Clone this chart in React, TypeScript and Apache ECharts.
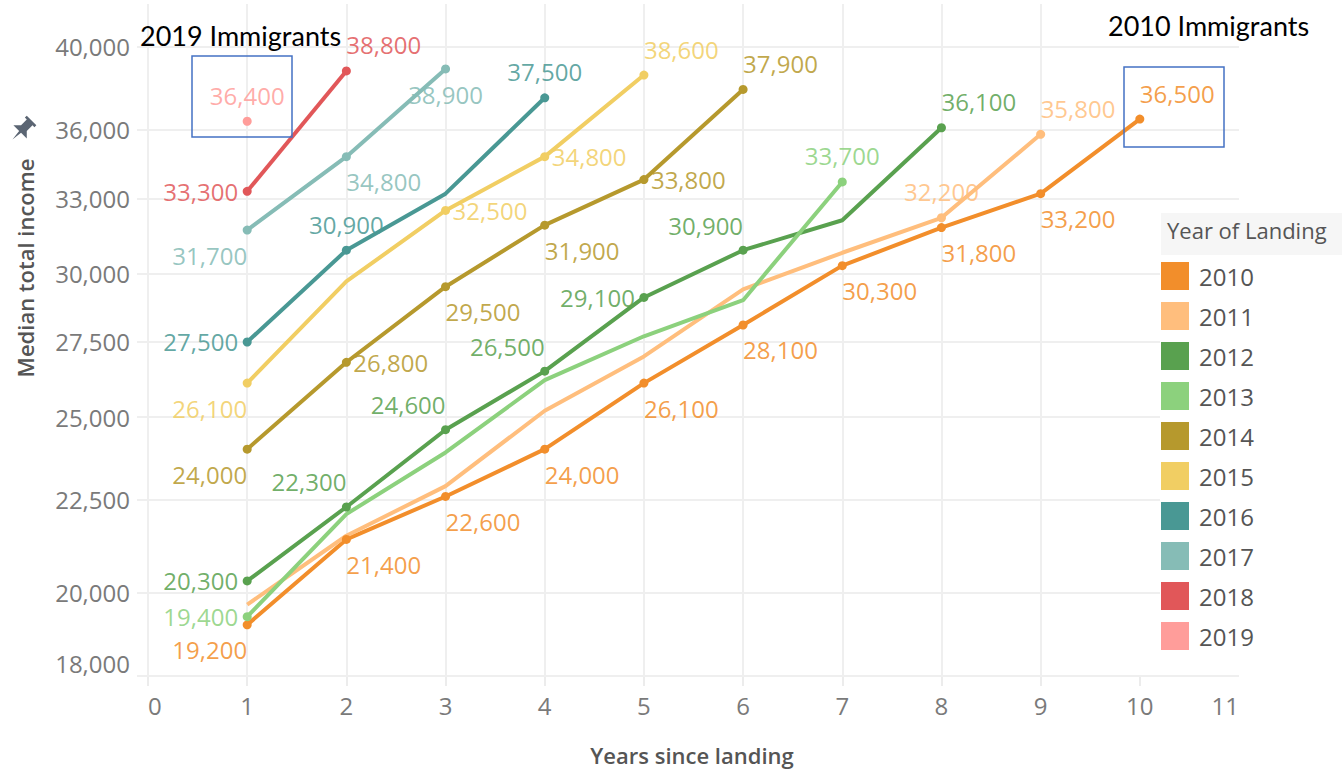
import React, { useEffect, useRef } from 'react';
import * as echarts from 'echarts';

// ---------- data ----------
const yearsOfLanding = ['2010', '2011', '2012', '2013', '2014', '2015', '2016', '2017', '2018', '2019'];
const yearsSinceLanding = [1, 2, 3, 4, 5, 6, 7, 8, 9, 10];

const income2010 = [19200, 21400, 22600, 24000, 26100, 28100, 30300, 31800, 33200, 36500];
const income2011 = [19700, 21500, 22900, 25200, 27000, 29400, 30800, 32200, 35800];
const income2012 = [20300, 22300, 24600, 26500, 29100, 30900, 32100, 36100];
const income2013 = [19400, 22100, 23900, 26200, 27700, 29000, 33700];
const income2014 = [24000, 26800, 29500, 31900, 33800, 37900];
const income2015 = [26100, 29700, 32500, 34800, 38600];
const income2016 = [27500, 30900, 33200, 37500];
const income2017 = [31700, 34800, 38900];
const income2018 = [33300, 38800];
const income2019 = [36400];

const yTickValues = [18000, 20000, 22500, 25000, 27500, 30000, 33000, 36000, 40000];
const xLabelValues = [0, 1, 2, 3, 4, 5, 6, 7, 8, 9, 10, 11];
const xTickValues = [0, 1, 2, 3, 4, 5, 6, 7, 8, 9, 10];

// ---------- styling ----------
const seriesValues = [income2010, income2011, income2012, income2013, income2014, income2015, income2016, income2017, income2018, income2019];
const colors = ['#F28E2B', '#FFBE7D', '#59A14F', '#8CD17D', '#B6992D', '#F1CE63', '#499894', '#86BCB6', '#E15759', '#FF9D9A'];

// label placement per point ('' = no label / no dot)
const labelPlacements: string[][] = [
  ['BL', 'BR', 'BR', 'BR', 'BR', 'BR', 'BR', 'BR', 'BR', 'TR'],
  ['', '', '', '', '', '', '', 'T', 'TR'],
  ['L', 'TL', 'TL', 'TL', 'L', 'TL', '', 'TR'],
  ['L', '', '', '', '', '', 'T'],
  ['BL', 'R', 'BR', 'BR', 'R', 'TR'],
  ['BL', '', 'R', 'R', 'TR'],
  ['L', 'T', '', 'T'],
  ['BL', 'BR', 'B'],
  ['L', 'TR'],
  ['T'],
];

const FONT = "'Open Sans', sans-serif";
const fmt = (v: number) => String(Math.round(v)).replace(/\B(?=(\d{3})+(?!\d))/g, ',');

function placement(code: string): { align: string; offset: number[] } {
  switch (code) {
    case 'L': return { align: 'right', offset: [-9, 0] };
    case 'R': return { align: 'left', offset: [7, 0] };
    case 'T': return { align: 'center', offset: [0, -26] };
    case 'B': return { align: 'center', offset: [0, 26] };
    case 'TL': return { align: 'right', offset: [0, -25] };
    case 'TR': return { align: 'left', offset: [0, -26] };
    case 'BL': return { align: 'right', offset: [0, 25] };
    default: return { align: 'left', offset: [0, 25] }; // BR
  }
}

const series = yearsOfLanding.map((name, i) => ({
  name,
  type: 'line',
  color: colors[i],
  symbol: 'circle',
  showAllSymbol: true,
  lineStyle: { width: 4, color: colors[i] },
  itemStyle: { color: colors[i], borderWidth: 0 },
  emphasis: { disabled: true },
  label: {
    show: false,
    fontSize: 24,
    fontFamily: FONT,
    color: colors[i],
    opacity: 0.85,
    textBorderWidth: 0,
    textBorderColor: 'transparent',
    formatter: (p: any) => fmt(p.value[1]),
  },
  data: seriesValues[i].map((v, j) => {
    const code = labelPlacements[i][j];
    if (!code) {
      return { value: [yearsSinceLanding[j], v], symbolSize: 0, label: { show: false } };
    }
    const p = placement(code);
    return {
      value: [yearsSinceLanding[j], v],
      symbolSize: 9,
      label: { show: true, position: 'inside', align: p.align, verticalAlign: 'middle', offset: p.offset },
    };
  }),
}));

const option: any = {
  animation: false,
  backgroundColor: '#ffffff',
  grid: { left: 137, top: 4, width: 1102, height: 673, containLabel: false, outerBoundsMode: 'none' },
  xAxis: {
    type: 'value',
    min: -0.111,
    max: 11,
    axisLine: { show: false },
    axisTick: { show: true, customValues: xTickValues, length: 9, lineStyle: { color: '#ececec', width: 2 } },
    axisLabel: {
      customValues: xLabelValues,
      fontSize: 24,
      fontFamily: FONT,
      color: '#7a7a7a',
      margin: 16,
      alignMinLabel: 'left',
      alignMaxLabel: 'right',
      formatter: (v: number) => String(Math.round(v)),
    },
    splitLine: { show: true, showMaxLine: false, lineStyle: { color: '#efefef', width: 2 } },
  },
  yAxis: {
    type: 'log',
    logBase: 10,
    min: 17969,
    max: 42245,
    axisLine: { show: false },
    axisTick: { show: false, customValues: yTickValues },
    axisLabel: {
      customValues: yTickValues,
      fontSize: 24,
      fontFamily: FONT,
      color: '#7a7a7a',
      margin: 7,
      verticalAlignMinLabel: 'bottom',
      formatter: (v: number) => fmt(v),
    },
    splitLine: { show: true, lineStyle: { color: '#efefef', width: 2 } },
  },
  legend: {
    orient: 'vertical',
    left: 1161,
    top: 262,
    padding: 0,
    itemWidth: 28,
    itemHeight: 28,
    itemGap: 12,
    icon: 'rect',
    selectedMode: false,
    data: yearsOfLanding,
    itemStyle: { borderWidth: 0 },
    textStyle: { fontSize: 24, color: '#555555', fontFamily: FONT, padding: [0, 0, 0, 5] },
  },
  graphic: [
    { type: 'rect', z: 1, shape: { x: 1160, y: 213, width: 182, height: 450 }, style: { fill: '#ffffff' } },
    { type: 'rect', z: 1, shape: { x: 1161, y: 213, width: 181, height: 42 }, style: { fill: '#f6f6f6' } },
    {
      type: 'text', z: 3, x: 1167, y: 230,
      style: { text: 'Year of Landing', fontSize: 22, fill: '#555555', fontFamily: FONT, verticalAlign: 'middle' },
    },
    {
      type: 'text', z: 3, x: 25, y: 268, rotation: Math.PI / 2,
      style: { text: 'Median total income', fontSize: 22, fontWeight: 600, fill: '#555555', fontFamily: FONT, align: 'center', verticalAlign: 'middle' },
    },
    {
      type: 'text', z: 3, x: 692, y: 755,
      style: { text: 'Years since landing', fontSize: 22, fontWeight: 600, fill: '#555555', fontFamily: FONT, align: 'center', verticalAlign: 'middle' },
    },
    {
      type: 'polygon', z: 3, x: 22, y: 130, rotation: -Math.PI / 4, scaleX: 1.35, scaleY: 1.35,
      shape: { points: [[-5, -10], [5, -10], [5, -8], [3, -8], [3, -2], [7, 2], [1, 2], [0, 10], [-1, 2], [-7, 2], [-3, -2], [-3, -8], [-5, -8]] },
      style: { fill: '#5b6573' },
    },
    {
      type: 'text', z: 5, x: 140, y: 35,
      style: { text: '2019 Immigrants', fontSize: 27, fill: '#000000', fontFamily: 'Lato, sans-serif', verticalAlign: 'middle' },
    },
    {
      type: 'text', z: 5, x: 1108, y: 25,
      style: { text: '2010 Immigrants', fontSize: 27, fill: '#000000', fontFamily: 'Lato, sans-serif', verticalAlign: 'middle' },
    },
    {
      type: 'rect', z: 5, shape: { x: 192, y: 56, width: 100, height: 81 },
      style: { fill: 'transparent', stroke: '#4472C4', lineWidth: 1.5 },
    },
    {
      type: 'rect', z: 5, shape: { x: 1124, y: 67, width: 100, height: 80 },
      style: { fill: 'transparent', stroke: '#4472C4', lineWidth: 1.5 },
    },
  ],
  series,
};

export default function App() {
  const ref = useRef<HTMLDivElement>(null);
  useEffect(() => {
    document.body.style.margin = '0';
    const chart = echarts.init(ref.current as HTMLDivElement, undefined, { renderer: 'svg' });
    chart.setOption(option);
    return () => chart.dispose();
  }, []);
  return <div ref={ref} style={{ width: 1342, height: 769 }} />;
}
